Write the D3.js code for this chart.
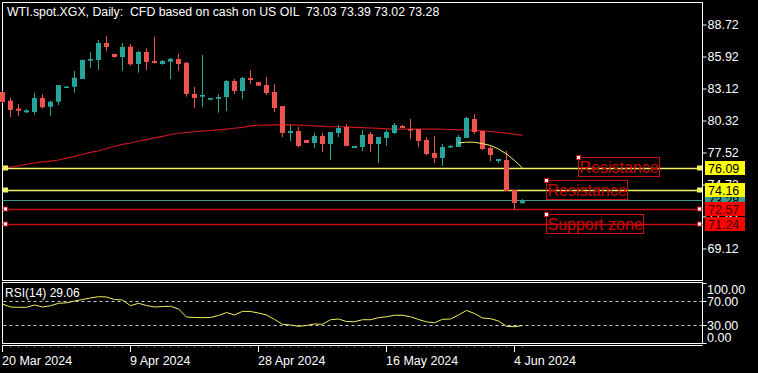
<!DOCTYPE html>
<html>
<head>
<meta charset="utf-8">
<script src="https://cdn.jsdelivr.net/npm/d3@7"></script>
<style>
  body { margin: 0; background: #000; }
  svg { display: block; }
  text { font-family: "Liberation Sans", Arial, sans-serif; }
</style>
</head>
<body>
<svg width="758" height="373"></svg>
<script>
// daily bars, 20 Mar 2024 .. 5 Jun 2024
let opens = [82.77,82.01,81.31,80.99,81.02,82.25,81.48,81.92,83.22,83.23,
  83.91,85.51,85.57,87.06,86.10,85.83,86.73,85.22,86.27,85.48,
  85.22,85.42,85.66,85.33,82.60,82.36,82.10,82.18,82.33,83.73,
  82.86,83.99,83.64,83.38,82.77,81.54,79.18,79.36,78.57,78.31,
  78.92,78.22,79.18,79.71,77.87,77.96,79.10,78.22,78.75,79.18,
  79.80,79.53,79.53,78.57,77.43,77.00,77.96,77.96,78.75,80.41,
  79.36,77.87,76.73,76.82,74.20,73.03];
let highs = [82.86,82.27,81.72,81.26,82.71,82.59,82.01,83.38,83.30,84.61,
  85.63,86.24,87.32,87.67,86.10,87.06,86.97,86.36,86.59,87.61,
  85.57,85.74,86.10,85.39,83.21,86.01,82.25,82.59,83.82,83.91,
  84.08,84.69,83.64,84.08,83.47,81.54,79.88,79.71,78.57,79.18,
  79.18,79.27,79.88,79.97,78.05,79.45,79.27,78.83,79.45,80.06,
  79.88,80.41,79.53,78.83,78.92,78.22,78.13,79.01,80.58,80.84,
  79.36,78.05,76.91,77.61,74.20,73.39];
let lows = [81.80,80.56,80.67,80.93,80.82,81.34,80.70,81.63,83.18,82.71,
  83.91,84.90,84.70,86.38,85.77,84.63,85.07,84.46,84.70,85.28,
  85.16,83.91,84.63,82.36,81.37,81.48,82.04,80.96,81.11,82.60,
  82.16,83.47,83.30,82.51,81.02,78.83,78.48,77.96,78.31,77.87,
  77.52,76.82,78.83,78.05,77.87,77.61,77.52,76.56,78.05,79.10,
  79.62,78.66,77.96,77.26,76.56,76.30,77.87,77.96,78.75,79.10,
  77.70,76.73,76.56,74.11,72.53,73.02];
let closes = [81.90,81.20,81.13,81.17,82.25,81.43,81.92,83.38,83.25,84.02,
  85.57,85.66,87.06,86.71,85.83,86.71,85.19,86.27,85.40,85.31,
  85.48,85.68,85.22,82.60,82.25,82.51,82.25,82.33,83.73,82.86,
  83.99,83.82,83.32,82.68,81.37,79.18,79.36,78.05,78.31,78.92,
  78.22,79.27,79.62,78.05,78.05,79.01,78.22,78.83,79.27,79.88,
  79.62,79.45,78.48,77.35,77.00,77.96,78.05,78.83,80.49,79.27,
  77.78,77.26,76.91,74.11,73.06,73.28];

// moving averages
let maSlow = [76.14,76.21,76.31,76.45,76.56,76.65,76.73,76.82,76.98,77.13,
  77.30,77.48,77.63,77.83,78.00,78.19,78.31,78.48,78.61,78.75,
  78.89,79.05,79.16,79.23,79.29,79.34,79.40,79.46,79.53,79.60,
  79.67,79.80,79.86,79.88,79.90,79.91,79.90,79.88,79.86,79.81,
  79.77,79.73,79.73,79.71,79.68,79.65,79.62,79.58,79.55,79.53,
  79.53,79.53,79.53,79.53,79.52,79.51,79.49,79.46,79.45,79.42,
  79.38,79.31,79.25,79.18,79.08,78.98];
let maFastStart = 57;
let maFast = [78.31,78.38,78.37,78.25,78.09,77.78,77.35,76.78,76.12];

let rsi = [65.0,60.0,59.5,59.5,63.3,60.0,62.0,66.2,67.0,70.0,
  72.5,75.0,77.2,76.7,72.5,71.7,62.2,66.2,62.5,60.0,
  60.8,61.2,56.7,43.3,42.5,42.2,42.5,45.8,50.8,46.7,
  52.8,52.5,50.0,46.7,39.2,31.2,30.0,27.8,29.2,31.7,
  31.2,38.8,40.0,35.8,35.5,38.8,38.8,42.2,43.8,46.2,
  46.2,43.7,39.2,35.3,33.7,39.5,40.0,46.7,54.2,49.2,
  41.7,40.5,36.7,27.8,27.2,29.06];

let priceTicks = [88.72,85.92,83.12,80.32,77.52,74.72,71.92,69.12];
let rsiTicks = [100,70,30,0];
let rsiLevels = [70,30];
let dateLabels = ["20 Mar 2024","9 Apr 2024","28 Apr 2024","16 May 2024","4 Jun 2024"];
let dateIdx = [0,16,32,48,64];

let levels = [76.09,74.16,72.57,71.24];
let levelKind = ["resistance","resistance","support","support"];
let bidPrice = 73.28;

let noteText = ["Resistance","Resistance","Support zone"];
let noteIdx = [72,68,68];
let notePrice = [77.08,75.07,72.10];

let title = "WTI.spot.XGX, Daily:  CFD based on cash on US OIL  73.03 73.39 73.02 73.28";
let rsiTitle = "RSI(14) 29.06";

var DrawChart = function(){
  let svg = d3.select("svg");
  let frameL = 2.5, frameR = 702.5;
  let mainTop = 2.5, mainBottom = 280.5;
  let rsiTop = 282.5, rsiBottom = 343.5;

  svg.append("rect").attr("width", 758).attr("height", 373).attr("fill", "#000");

  let x = d3.scaleLinear().domain([0, 64]).range([2, 514]);
  let y = d3.scaleLinear().domain([69.12, 88.72]).range([248, 24]);
  let ry = d3.scaleLinear().domain([0, 100]).range([343, 283]);
  let px = i => Math.round(x(i));
  let py = v => Math.round(y(v)) + 0.5;

  // frames
  svg.append("rect").attr("x", frameL).attr("y", mainTop)
    .attr("width", frameR - frameL).attr("height", mainBottom - mainTop)
    .attr("fill", "none").attr("stroke", "#fff");
  svg.append("rect").attr("x", frameL).attr("y", rsiTop)
    .attr("width", frameR - frameL).attr("height", rsiBottom - rsiTop)
    .attr("fill", "none").attr("stroke", "#fff");
  svg.append("line").attr("x1", frameL).attr("x2", frameR)
    .attr("y1", 345.5).attr("y2", 345.5).attr("stroke", "#fff");

  // price axis (some ticks end up hidden under the level tags, as in MT)
  let yAxis = d3.axisRight(y).tickValues(priceTicks).tickSize(4).tickFormat(d3.format(".2f"));
  let yGroup = svg.append("g").attr("transform", "translate(" + frameR + ",0.5)").call(yAxis);
  yGroup.select(".domain").remove();
  yGroup.selectAll("line").attr("stroke", "#fff");
  yGroup.selectAll("text").attr("fill", "#fff").attr("x", 5)
    .style("font-size", "12.5px").style("font-family", "Liberation Sans, Arial, sans-serif");

  // slow MA
  svg.append("path").datum(maSlow)
    .attr("d", d3.line().x((d, i) => px(i) + 0.5).y(d => y(d)))
    .attr("fill", "none").attr("stroke", "#c8161e").attr("stroke-width", 1.2);

  // horizontal levels
  let lvlColor = k => k == "resistance" ? "#f2f266" : "#c80f14";
  svg.append("line").attr("x1", frameL).attr("x2", frameR)
    .attr("y1", py(bidPrice)).attr("y2", py(bidPrice))
    .attr("stroke", "#3a9a8e");
  levels.forEach(function(v, i){
    svg.append("line").attr("x1", frameL).attr("x2", frameR)
      .attr("y1", py(v)).attr("y2", py(v))
      .attr("stroke", lvlColor(levelKind[i])).attr("stroke-width", 1.3);
  });

  // candles
  let bars = svg.append("g").attr("id", "candles");
  opens.forEach(function(o, i){
    let c = closes[i];
    let col = c >= o ? "#26a69a" : "#ef5350";
    let cx = px(i);
    bars.append("line")
      .attr("x1", cx + 0.5).attr("x2", cx + 0.5)
      .attr("y1", y(highs[i])).attr("y2", y(lows[i]))
      .attr("stroke", col);
    let top = y(Math.max(o, c)), bot = y(Math.min(o, c));
    bars.append("rect")
      .attr("x", cx - 2).attr("width", 5)
      .attr("y", top).attr("height", Math.max(1.5, bot - top))
      .attr("fill", col);
  });

  // fast MA
  svg.append("path").datum(maFast)
    .attr("d", d3.line().x((d, i) => px(maFastStart + i) + 0.5).y(d => y(d)))
    .attr("fill", "none").attr("stroke", "#f2f266").attr("stroke-width", 1);

  // level anchor squares
  levels.forEach(function(v, i){
    let res = levelKind[i] == "resistance";
    [3, 697].forEach(function(sx){
      svg.append("rect").attr("x", sx + 0.5).attr("y", py(v) - 2.5)
        .attr("width", 4).attr("height", 4)
        .attr("fill", res ? "#f2f266" : "#fff")
        .attr("stroke", res ? "#f2f266" : "#c80f14");
    });
  });

  // right-side price tags
  let tagLevels = [bidPrice].concat(levels);
  let tagKinds = ["bid"].concat(levelKind);
  tagLevels.forEach(function(v, i){
    let k = tagKinds[i];
    let bg = k == "bid" ? "#3a9a8e" : (k == "resistance" ? "#ffff00" : "#ff0000");
    let cy = Math.round(y(v));
    svg.append("rect").attr("x", 705).attr("y", cy - 7)
      .attr("width", 40).attr("height", 14).attr("fill", bg);
    svg.append("text").attr("x", 708).attr("y", cy + 4.5)
      .attr("fill", k == "support" ? "#3a0000" : "#000")
      .style("font-size", "12.5px")
      .text(d3.format(".2f")(v));
  });

  // text notes
  noteText.forEach(function(t, i){
    let nx = px(noteIdx[i]) + 0.5, ny = Math.round(y(notePrice[i])) + 0.5;
    let txt = svg.append("text").attr("x", nx + 1).attr("y", ny + 15)
      .attr("fill", "#d00000").style("font-size", "16px").text(t);
    let w = txt.node().getComputedTextLength();
    svg.append("rect").attr("x", nx).attr("y", ny)
      .attr("width", Math.round(w) + 2).attr("height", 19)
      .attr("fill", "none").attr("stroke", "#c80f14");
    svg.append("rect").attr("x", nx - 2).attr("y", ny - 2)
      .attr("width", 4).attr("height", 4)
      .attr("fill", "#fff").attr("stroke", "#c80f14");
  });

  // RSI pane
  rsiLevels.forEach(function(v){
    svg.append("line").attr("x1", frameL + 1).attr("x2", frameR)
      .attr("y1", Math.round(ry(v)) + 0.5).attr("y2", Math.round(ry(v)) + 0.5)
      .attr("stroke", "#c8c8c8").style("stroke-dasharray", "3,3");
  });
  svg.append("path").datum(rsi)
    .attr("d", d3.line().x((d, i) => px(i) + 0.5).y(d => ry(d)))
    .attr("fill", "none").attr("stroke", "#f0f060").attr("stroke-width", 1);
  svg.append("rect").attr("x", 4).attr("y", 284).attr("width", 80).attr("height", 14).attr("fill", "#000");
  svg.append("text").attr("x", 5).attr("y", 297).attr("fill", "#fff")
    .style("font-size", "12px").text(rsiTitle);

  rsiTicks.forEach(function(v){
    let ty = Math.round(ry(v)) + 0.5;
    svg.append("line").attr("x1", frameR).attr("x2", frameR + 4)
      .attr("y1", ty).attr("y2", ty).attr("stroke", "#fff");
    let off = v == 100 ? 6 : (v == 0 ? -6 : 0);
    svg.append("text").attr("x", 707).attr("y", ty + off + 4.5)
      .attr("fill", "#fff").style("font-size", "12.5px")
      .text(d3.format(".2f")(v));
  });

  // time axis
  opens.forEach(function(o, i){
    svg.append("line").attr("x1", px(i) + 0.5).attr("x2", px(i) + 0.5)
      .attr("y1", 346).attr("y2", 348).attr("stroke", "#555");
  });
  dateLabels.forEach(function(t, i){
    let tx = px(dateIdx[i]) + 0.5;
    svg.append("line").attr("x1", tx).attr("x2", tx)
      .attr("y1", 345).attr("y2", 352).attr("stroke", "#fff");
    svg.append("text").attr("x", tx - 0.5).attr("y", 365)
      .attr("fill", "#fff").style("font-size", "12.5px").text(t);
  });

  // title
  svg.append("text").attr("x", 7).attr("y", 16)
    .attr("fill", "#fff").style("font-size", "12.3px").style("white-space", "pre")
    .text(title);
};
DrawChart();
</script>
</body>
</html>
